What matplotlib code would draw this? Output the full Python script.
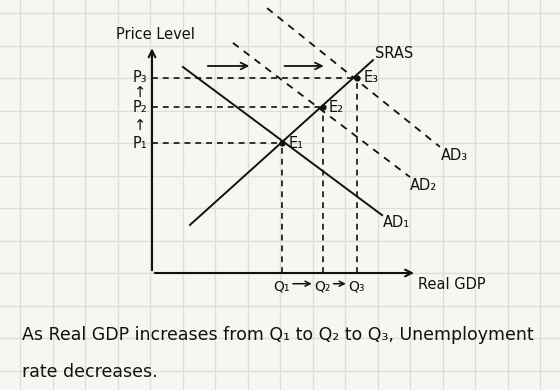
import matplotlib
matplotlib.use("Agg")
import matplotlib.pyplot as plt
import numpy as np

# ---- data (grid-cell units, origin at the axes corner) ----
eq_labels = ["E₁", "E₂", "E₃"]
q_labels = ["Q₁", "Q₂", "Q₃"]
p_labels = ["P₁", "P₂", "P₃"]
eq_q = [4.0, 5.25, 6.3]       # output at each equilibrium
eq_p = [4.0, 5.1, 6.0]        # price level at each equilibrium
sras_x = [1.17, 6.8]
sras_y = [1.48, 6.55]
ad1_x = [0.95, 7.08]
ad1_y = [6.34, 1.78]
ad2_x = [2.49, 7.94]
ad2_y = [7.08, 2.95]
ad3_x = [3.54, 8.86]
ad3_y = [8.15, 3.88]
shift_y = 6.37
shift1_x = [1.63, 3.08]
shift2_x = [3.99, 5.37]
y_axis_top = 7.0
x_axis_right = 8.15

W, H = 560, 390
CELL = 32.5
OX, OY = 152, 273  # pixel location of the origin

fig = plt.figure(figsize=(W / 100, H / 100), dpi=100)
fig.patch.set_facecolor("#f8f6f2")
ax = fig.add_axes([0, 0, 1, 1])
ax.set_facecolor("#f8f6f2")
ax.set_xlim(-OX / CELL, (W - OX) / CELL)
ax.set_ylim(-(H - OY) / CELL, OY / CELL)
ax.axis("off")

# graph-paper grid
gx0 = (150 - OX) / CELL
for k in range(-5, 14):
    ax.axvline(gx0 + k, color="#dfddd8", lw=1.0, zorder=0)
for k in range(-4, 9):
    ax.axhline(k, color="#dfddd8", lw=1.0, zorder=0)

ink = "#111111"
# axes with arrows
ax.annotate("", xy=(0, y_axis_top), xytext=(0, 0),
            arrowprops=dict(arrowstyle="->", color=ink, lw=1.5, mutation_scale=12))
ax.annotate("", xy=(x_axis_right, 0), xytext=(0, 0),
            arrowprops=dict(arrowstyle="->", color=ink, lw=1.5, mutation_scale=12))

# curves
ax.plot(sras_x, sras_y, color=ink, lw=1.4)
ax.plot(ad1_x, ad1_y, color=ink, lw=1.4)
ax.plot(ad2_x, ad2_y, color=ink, lw=1.3, ls=(0, (4, 3.5)))
ax.plot(ad3_x, ad3_y, color=ink, lw=1.3, ls=(0, (4, 3.5)))

# dashed guides and points
for q, p in zip(eq_q, eq_p):
    ax.plot([0, q], [p, p], color=ink, lw=1.2, ls=(0, (3.5, 3)))
    ax.plot([q, q], [0, p], color=ink, lw=1.2, ls=(0, (3.5, 3)))
    ax.plot([q], [p], marker="o", ms=3.5, color=ink)

# shift arrows
for xs in (shift1_x, shift2_x):
    ax.annotate("", xy=(xs[1], shift_y), xytext=(xs[0], shift_y),
                arrowprops=dict(arrowstyle="->", color=ink, lw=1.3, mutation_scale=12))

fs = 10.5
txt = dict(color=ink, fontsize=fs, family="DejaVu Sans")
ax.text(-1.1, 7.35, "Price Level", ha="left", va="center", **txt)
ax.text(8.2, -0.35, "Real GDP", ha="left", va="center", **txt)
ax.text(6.85, 6.75, "SRAS", ha="left", va="center", **txt)
ax.text(7.1, 1.55, "AD₁", ha="left", va="center", **txt)
ax.text(7.95, 2.7, "AD₂", ha="left", va="center", **txt)
ax.text(8.9, 3.6, "AD₃", ha="left", va="center", **txt)

# equilibrium labels
for q, p, lab in zip(eq_q, eq_p, eq_labels):
    ax.text(q + 0.2, p, lab, ha="left", va="center", **txt)

# price labels with arrows between
for p, lab in zip(eq_p, p_labels):
    ax.text(-0.38, p, lab, ha="center", va="center", **txt)
for a, b in zip(eq_p[:-1], eq_p[1:]):
    ax.text(-0.38, (a + b) / 2, "↑", ha="center", va="center", **txt)

# quantity labels with arrows between
for q, lab in zip(eq_q, q_labels):
    ax.text(q, -0.4, lab, ha="center", va="center", color=ink, fontsize=10,
            family="DejaVu Sans")
for a, b in zip(eq_q[:-1], eq_q[1:]):
    ax.annotate("", xy=(b - 0.25, -0.33), xytext=(a + 0.25, -0.33),
                arrowprops=dict(arrowstyle="->", color=ink, lw=1.1, mutation_scale=9))

ax.text(-4.0, -1.9, "As Real GDP increases from Q₁ to Q₂ to Q₃, Unemployment",
        ha="left", va="center", color=ink, fontsize=12.5, family="DejaVu Sans")
ax.text(-4.0, -3.05, "rate decreases.", ha="left", va="center",
        color=ink, fontsize=12.5, family="DejaVu Sans")

fig.savefig("out.png", dpi=100, facecolor=fig.get_facecolor())
